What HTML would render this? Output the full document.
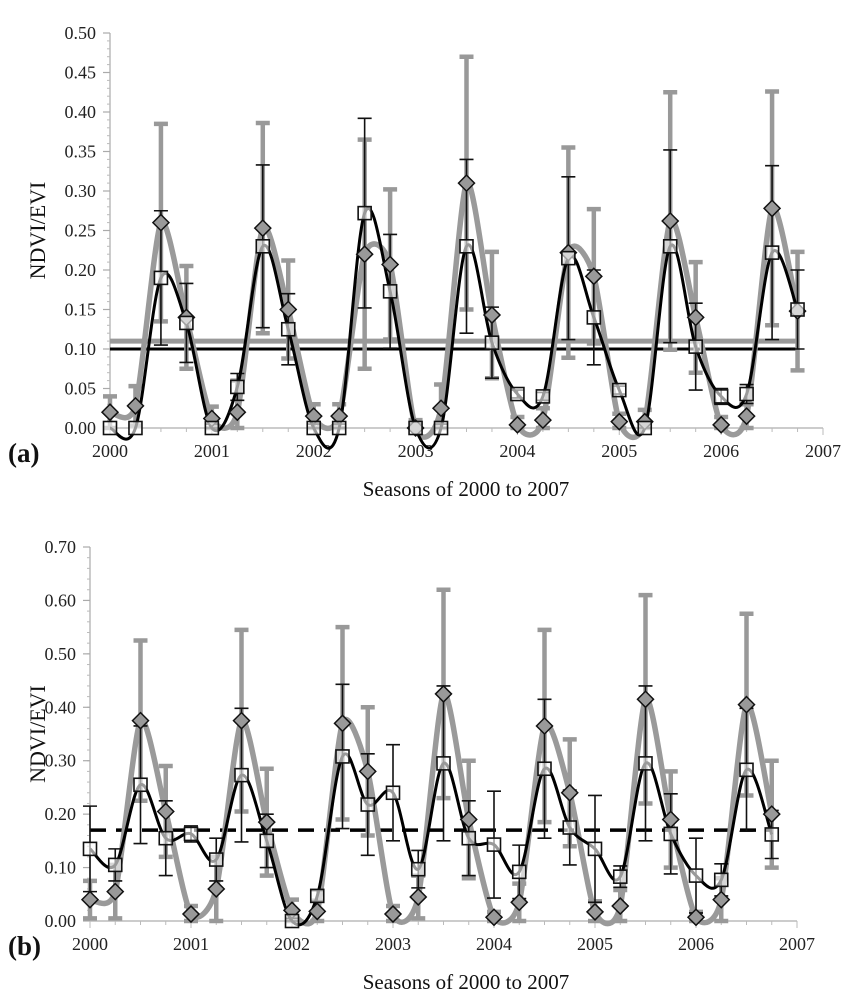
<!DOCTYPE html>
<html><head><meta charset="utf-8"><style>
body{margin:0;background:#fff}
svg{display:block}
svg text{font-family:"Liberation Serif","DejaVu Serif",serif}
</style></head><body>
<svg id="chart" width="851" height="1000" viewBox="0 0 851 1000" xmlns="http://www.w3.org/2000/svg"></svg>
<script>
const seasons = [2000,2000.25,2000.5,2000.75,2001,2001.25,2001.5,2001.75,2002,2002.25,2002.5,2002.75,2003,2003.25,2003.5,2003.75,2004,2004.25,2004.5,2004.75,2005,2005.25,2005.5,2005.75,2006,2006.25,2006.5,2006.75];
const yearTicks = ["2000","2001","2002","2003","2004","2005","2006","2007"];
const aYTicks = ["0.00","0.05","0.10","0.15","0.20","0.25","0.30","0.35","0.40","0.45","0.50"];
const bYTicks = ["0.00","0.10","0.20","0.30","0.40","0.50","0.60","0.70"];
const aDiamond = [.02,.028,.26,.14, .012,.02,.253,.15, .015,.015,.22,.207, 0,.025,.31,.143, .004,.01,.222,.192, .008,.008,.262,.14, .004,.015,.278,.148];
const aDiamondErr = [.02,.025,.125,.065, .015,.04,.133,.062, .015,.015,.145,.095, .01,.03,.16,.08, .01,.015,.133,.085, .01,.015,.163,.07, .01,.015,.148,.075];
const aSquare = [0,0,.19,.133, 0,.052,.23,.125, 0,0,.272,.173, 0,0,.23,.108, .043,.04,.215,.14, .048,0,.23,.103, .04,.043,.222,.15];
const aSquareErr = [0,0,.085,.05, .005,.017,.103,.045, .005,.005,.12,.072, .005,.005,.11,.045, .005,.005,.103,.06, .005,.005,.122,.055, .01,.012,.11,.05];
const aRefGray = 0.11, aRefBlack = 0.10;
const bDiamond = [.04,.055,.375,.205, .013,.06,.375,.185, .02,.018,.37,.28, .013,.045,.425,.19, .007,.035,.365,.24, .017,.028,.415,.19, .007,.04,.405,.2];
const bDiamondErr = [.035,.05,.15,.085, .015,.06,.17,.1, .02,.02,.18,.12, .015,.04,.195,.11, .01,.035,.18,.1, .02,.03,.195,.09, .01,.04,.17,.1];
const bSquare = [.135,.105,.255,.155, .163,.115,.273,.15, 0,.047,.308,.218, .24,.097,.295,.155, .143,.092,.285,.175, .135,.083,.295,.163, .085,.077,.283,.162];
const bSquareErr = [.08,.03,.11,.07, .015,.04,.125,.05, .005,.01,.135,.095, .09,.035,.145,.07, .1,.05,.13,.07, .1,.02,.145,.075, .07,.03,.115,.045];
const bRef = 0.17;

const svg = document.getElementById('chart');
const NS = 'http://www.w3.org/2000/svg';
const FONT = '"Liberation Serif", "DejaVu Serif", serif';
function el(tag, attrs, parent){const e=document.createElementNS(NS,tag);for(const k in attrs)e.setAttribute(k,attrs[k]);if(tag==='text')e.setAttribute('font-family',FONT);(parent||svg).appendChild(e);return e;}
function spline(pts,t){
  let d='M'+pts[0][0]+','+pts[0][1];
  for(let i=0;i<pts.length-1;i++){
    const p0=pts[Math.max(0,i-1)],p1=pts[i],p2=pts[i+1],p3=pts[Math.min(pts.length-1,i+2)];
    const c1=[p1[0]+(p2[0]-p0[0])*t,p1[1]+(p2[1]-p0[1])*t];
    const c2=[p2[0]-(p3[0]-p1[0])*t,p2[1]-(p3[1]-p1[1])*t];
    d+=' C'+c1[0]+','+c1[1]+' '+c2[0]+','+c2[1]+' '+p2[0]+','+p2[1];
  }
  return d;
}
function panel(o){
  const g=el('g',{});
  
  
  const X=v=>o.x0+(v-2000)*(o.x1-o.x0)/7;
  const Y=v=>o.y0-(v/o.ymax)*(o.y0-o.y1);
  const ax=el('line',{x1:o.x0,y1:o.y1,x2:o.x0,y2:o.y0,stroke:'#bbb','stroke-width':1.5},g);
  
  
  const bx=el('line',{x1:o.x0,y1:o.y0,x2:o.x1,y2:o.y0,stroke:'#bbb','stroke-width':1.5},g);
  
  
  const nMinor=o.minor;
  for(let i=0;i<=nMinor;i++){const v=o.ymax*i/nMinor;el('line',{x1:o.x0-3,x2:o.x0,y1:Y(v),y2:Y(v),stroke:'#bbb','stroke-width':1},g);}
  o.yTicks.forEach((t,i)=>{
    const v=o.ymax*i/(o.yTicks.length-1);
    el('line',{x1:o.x0-7,x2:o.x0,y1:Y(v),y2:Y(v),stroke:'#aaa','stroke-width':1.2},g);
    const tx=el('text',{x:o.x0-14,y:Y(v)+6,'text-anchor':'end','font-size':18,fill:'#222'},g);
    tx.textContent=t;
    
    
  });
  for(let q=0;q<=28;q++){el('line',{x1:X(2000+q/4),x2:X(2000+q/4),y1:o.y0,y2:o.y0+(q%4?4:7),stroke:'#bbb','stroke-width':1},g);}
  yearTicks.forEach((t,i)=>{
    const tx=el('text',{x:X(2000+i),y:o.y0+29,'text-anchor':'middle','font-size':18,fill:'#222'},g);
    tx.textContent=t;
    
    
  });
  const yt=el('text',{x:0,y:0,transform:`translate(${o.titleX},${(o.y0+o.y1)/2}) rotate(-90)`,'text-anchor':'middle','font-size':22,fill:'#111'},g);
  yt.textContent='NDVI/EVI';
  
  
  const xt=el('text',{x:o.xTitleX,y:o.y0+68,'text-anchor':'middle','font-size':21,fill:'#111'},g);
  xt.textContent='Seasons of 2000 to 2007';
  
  
  const pl=el('text',{x:o.labelX,y:o.y0+34,'font-size':27,'font-weight':'bold',fill:'#111'},g);
  pl.textContent=o.label;
  
  
  o.refs.forEach(r=>{
    const l=el('line',{x1:o.x0,x2:X(2006.75),y1:Y(r.v),y2:Y(r.v),stroke:r.c,'stroke-width':r.w,'stroke-dasharray':r.dash||'none'},g);
    
    
  });
  o.d.forEach((v,i)=>{
    const x=X(seasons[i]),e=o.de[i];
    const eb=el('path',{d:`M${x},${Y(Math.max(0,v-e))}V${Y(v+e)}M${x-7},${Y(v+e)}h14M${x-7},${Y(Math.max(0,v-e))}h14`,stroke:'#999','stroke-width':4.5,fill:'none'},g);
    
    
  });
  const gc=el('path',{d:spline(o.d.map((v,i)=>[X(seasons[i]),Y(v)]),0.12),stroke:'#9a9a9a','stroke-width':5.5,fill:'none'},g);
  
  
  o.s.forEach((v,i)=>{
    const x=X(seasons[i]),e=o.se[i];
    if(e<=0)return;
    const eb=el('path',{d:`M${x},${Y(Math.max(0,v-e))}V${Y(v+e)}M${x-7},${Y(v+e)}h14M${x-7},${Y(Math.max(0,v-e))}h14`,stroke:'#111','stroke-width':1.6,fill:'none'},g);
    
    
  });
  const bc=el('path',{d:spline(o.s.map((v,i)=>[X(seasons[i]),Y(v)]),1/6),stroke:'#000','stroke-width':3,fill:'none'},g);
  
  
  o.d.forEach((v,i)=>{
    const x=X(seasons[i]),y=Y(v);
    const m=el('path',{d:`M${x},${y-8}L${x+8},${y}L${x},${y+8}L${x-8},${y}Z`,fill:'#999',stroke:'#111','stroke-width':1.5},g);
    
    
  });
  o.s.forEach((v,i)=>{
    const x=X(seasons[i]),y=Y(v);
    const m=el('rect',{x:x-6.5,y:y-6.5,width:13,height:13,fill:'#fff','fill-opacity':0.6,stroke:'#111','stroke-width':1.6},g);
    
    
  });
}
panel({name:'panel-a',x0:110,x1:823,y0:428,y1:33,ymax:0.5,minor:50,yTicks:aYTicks,titleX:45,xTitleX:466,labelX:8,label:'(a)',
  d:aDiamond,de:aDiamondErr,s:aSquare,se:aSquareErr,
  refs:[{v:aRefGray,c:'#999',w:5,name:'ndvi-threshold-line'},{v:aRefBlack,c:'#000',w:3,name:'evi-threshold-line'}]});
panel({name:'panel-b',x0:90,x1:797,y0:921,y1:547,ymax:0.7,minor:35,yTicks:bYTicks,titleX:45,xTitleX:466,labelX:8,label:'(b)',
  d:bDiamond,de:bDiamondErr,s:bSquare,se:bSquareErr,
  refs:[{v:bRef,c:'#000',w:3.5,dash:'16,10',name:'threshold-dashed-line'}]});
</script>
</body></html>
